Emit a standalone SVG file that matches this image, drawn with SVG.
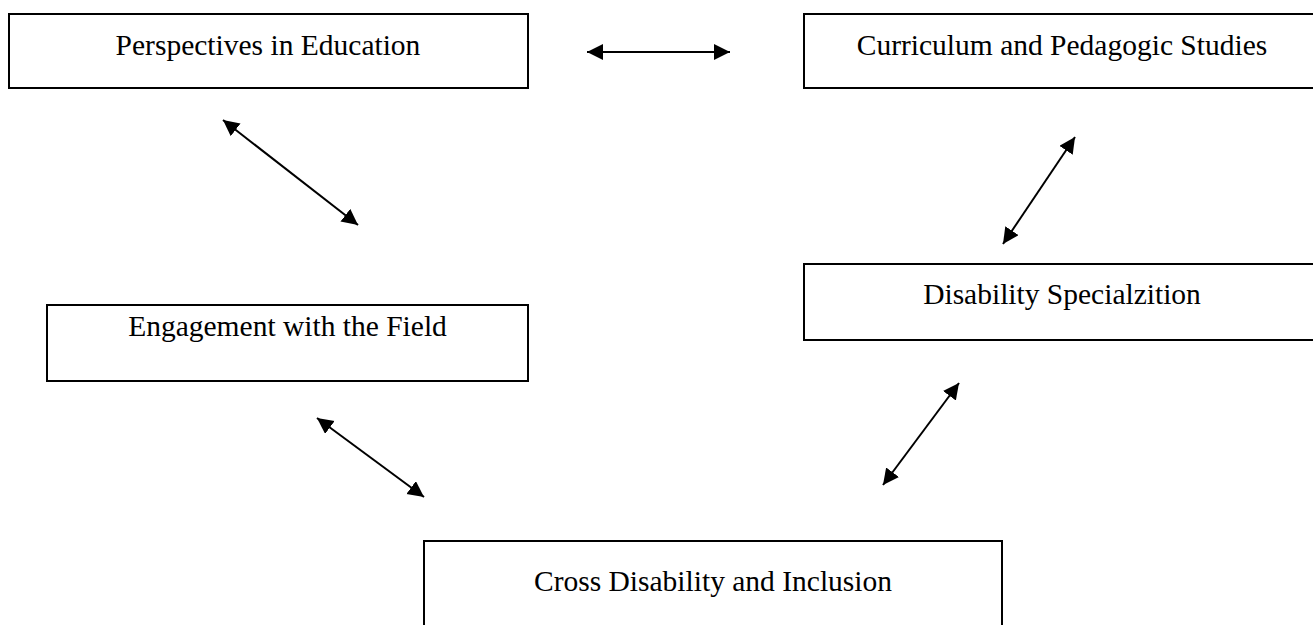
<svg xmlns="http://www.w3.org/2000/svg" width="1313" height="625" viewBox="0 0 1313 625">
<style>
.box{fill:#fff;stroke:#000;stroke-width:2}
.lbl{font-family:"Liberation Serif","Times New Roman",serif;font-size:29.5px;fill:#000;text-anchor:middle}
.con{stroke:#000;stroke-width:2;fill:none;marker-start:url(#ah);marker-end:url(#ah)}
</style>
<defs>
<marker id="ah" markerUnits="userSpaceOnUse" markerWidth="18" markerHeight="18" refX="16" refY="8" orient="auto-start-reverse" viewBox="0 0 18 18">
<path d="M0,0 L16,8 L0,16 z" fill="#000"/>
</marker>
</defs>
<rect width="1313" height="625" fill="#fff"/>
<g id="perspectives">
<rect class="box" x="9" y="14" width="519" height="74"/>
<text class="lbl" x="268" y="55">Perspectives in Education</text>
</g>
<g id="curriculum">
<rect class="box" x="804" y="14" width="520" height="74"/>
<text class="lbl" x="1062" y="55">Curriculum and Pedagogic Studies</text>
</g>
<g id="disability">
<rect class="box" x="804" y="264" width="520" height="76"/>
<text class="lbl" x="1062" y="304">Disability Specialzition</text>
</g>
<g id="engagement">
<rect class="box" x="47" y="305" width="481" height="76"/>
<text class="lbl" x="287.5" y="336">Engagement with the Field</text>
</g>
<g id="cross">
<rect class="box" x="424" y="541" width="578" height="100"/>
<text class="lbl" x="713" y="591">Cross Disability and Inclusion</text>
</g>
<g id="connectors">
<line class="con" x1="587" y1="52" x2="730" y2="52"/>
<line class="con" x1="223" y1="120" x2="358" y2="225"/>
<line class="con" x1="1075" y1="137" x2="1003" y2="244"/>
<line class="con" x1="317" y1="418" x2="424" y2="497"/>
<line class="con" x1="959" y1="383" x2="883" y2="485"/>
</g>
</svg>
